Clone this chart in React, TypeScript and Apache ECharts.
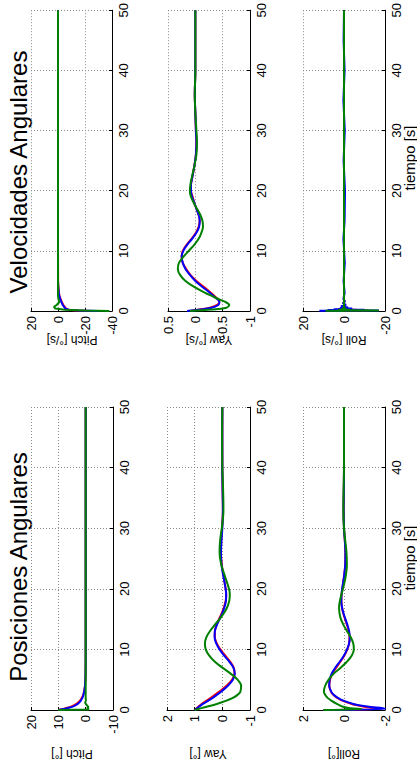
import React, { useEffect, useRef } from "react";
import * as echarts from "echarts";

const FONT = '"Liberation Sans", Arial, Helvetica, sans-serif';

// ---------- Posiciones Angulares ----------
// Pitch [°]
const posPitchT = [0, 0.2, 0.4, 0.6, 0.8, 1.0, 1.3, 1.6, 2.0, 2.5, 3.0, 3.5, 4.0, 5.0, 6.0, 8, 10, 15, 20, 30, 40, 50];
const posPitchRed = [10, 8.0, 6.4, 5.2, 4.2, 3.4, 2.6, 2.0, 1.4, 0.9, 0.6, 0.4, 0.25, 0.1, 0.05, 0, 0, 0, 0, 0, 0, 0];
const posPitchBlue = [10, 7.5, 5.8, 4.5, 3.6, 2.9, 2.2, 1.7, 1.2, 0.8, 0.55, 0.35, 0.25, 0.1, 0.05, 0, 0, 0, 0, 0, 0, 0];
const posPitchGreenT = [0, 0.1, 0.3, 0.5, 0.8, 1.2, 1.6, 2.0, 3, 5, 10, 20, 30, 40, 50];
const posPitchGreen = [10, -1.2, -0.6, -1.0, -0.4, 0.2, -0.1, 0, 0, 0, 0, 0, 0, 0, 0];

// Yaw [°]
const posYawT = [0, 0.5, 1, 1.5, 2, 2.5, 3, 4, 5, 6, 7, 8, 9, 10, 11, 12, 13, 14, 15, 16, 17, 18, 19, 20, 22, 24, 26, 28, 30, 33, 36, 40, 45, 50];
const posYawRed = [1, 0.88, 0.75, 0.58, 0.42, 0.27, 0.12, -0.15, -0.35, -0.44, -0.41, -0.28, -0.1, 0.07, 0.2, 0.27, 0.27, 0.21, 0.12, 0.02, -0.06, -0.12, -0.14, -0.12, -0.05, 0.02, 0.05, 0.04, 0.01, -0.02, -0.01, 0, 0, 0];
const posYawBlue = [1, 0.85, 0.7, 0.52, 0.35, 0.2, 0.05, -0.2, -0.38, -0.45, -0.4, -0.25, -0.06, 0.1, 0.22, 0.28, 0.27, 0.2, 0.1, 0.0, -0.08, -0.13, -0.14, -0.12, -0.04, 0.03, 0.05, 0.03, 0.0, -0.02, -0.01, 0, 0, 0];
const posYawGreen = [1, 0.6, 0.2, -0.12, -0.38, -0.55, -0.65, -0.68, -0.55, -0.3, 0.0, 0.28, 0.48, 0.6, 0.63, 0.58, 0.45, 0.28, 0.1, -0.06, -0.18, -0.25, -0.27, -0.24, -0.1, 0.04, 0.1, 0.08, 0.02, -0.04, -0.03, 0.0, 0.01, 0];

// Roll [°]
const posRollT = [0, 0.15, 0.3, 0.5, 0.75, 1, 1.5, 2, 2.5, 3, 4, 5, 6, 7, 8, 9, 10, 11, 12, 13, 14, 15, 16, 17, 18, 19, 20, 22, 24, 26, 28, 30, 33, 36, 40, 45, 50];
const posRollRed = [1, -1.8, -1.6, -1.1, -0.7, -0.38, 0.05, 0.33, 0.52, 0.63, 0.72, 0.68, 0.57, 0.38, 0.17, -0.02, -0.16, -0.25, -0.27, -0.23, -0.15, -0.05, 0.04, 0.1, 0.13, 0.12, 0.08, 0.0, -0.06, -0.07, -0.04, 0.0, 0.02, 0.01, 0, 0, 0];
const posRollBlue = [1, -2.0, -1.9, -1.3, -0.8, -0.45, 0.0, 0.3, 0.5, 0.62, 0.72, 0.7, 0.6, 0.42, 0.2, 0.0, -0.15, -0.25, -0.28, -0.25, -0.17, -0.07, 0.03, 0.1, 0.13, 0.12, 0.09, 0.0, -0.06, -0.07, -0.04, 0.0, 0.02, 0.01, 0, 0, 0];
const posRollGreen = [1, -0.85, -0.3, 0.0, 0.2, 0.35, 0.6, 0.8, 0.92, 0.98, 0.92, 0.75, 0.5, 0.15, -0.15, -0.38, -0.48, -0.45, -0.33, -0.15, 0.02, 0.15, 0.22, 0.24, 0.2, 0.13, 0.05, -0.08, -0.14, -0.12, -0.06, 0.0, 0.03, 0.02, 0, 0, 0];

// ---------- Velocidades Angulares ----------
// Pitch [°/s]
const velPitchT = [0, 0.1, 0.2, 0.4, 0.7, 1, 1.5, 2, 2.5, 3, 4, 5, 10, 20, 30, 40, 50];
const velPitchRed = [-25, -13, -8, -6, -5, -4, -2.8, -1.9, -1.2, -0.7, -0.3, -0.1, 0, 0, 0, 0, 0];
const velPitchBlue = [-30, -15, -8, -5.5, -4.5, -3.5, -2.5, -1.6, -1, -0.6, -0.2, 0, 0, 0, 0, 0, 0];
const velPitchGreen = [-38, -20, -5, 2, 3, 1, -1, -0.3, 0, 0, 0, 0, 0, 0, 0, 0, 0];

// Yaw [°/s]
const velYawT = [0, 0.25, 0.5, 1, 1.5, 2, 2.5, 3, 4, 5, 6, 7, 8, 9, 10, 11, 12, 13, 14, 15, 16, 17, 18, 19, 20, 21, 22, 24, 26, 28, 30, 33, 36, 40, 45, 50];
const velYawRed = [0.1, -0.08, -0.25, -0.4, -0.44, -0.41, -0.35, -0.29, -0.16, -0.02, 0.09, 0.17, 0.23, 0.25, 0.23, 0.16, 0.07, -0.01, -0.06, -0.08, -0.06, -0.02, 0.02, 0.05, 0.08, 0.08, 0.06, 0.02, -0.01, -0.02, -0.01, 0, 0.01, 0, 0, 0];
const velYawBlue = [0.15, -0.1, -0.28, -0.42, -0.44, -0.4, -0.33, -0.27, -0.13, 0.0, 0.1, 0.18, 0.23, 0.25, 0.22, 0.15, 0.06, -0.02, -0.07, -0.08, -0.06, -0.02, 0.02, 0.06, 0.08, 0.08, 0.06, 0.02, -0.01, -0.02, -0.01, 0.0, 0.01, 0, 0, 0];
const velYawGreen = [0.1, -0.3, -0.55, -0.62, -0.55, -0.42, -0.3, -0.18, 0.02, 0.18, 0.28, 0.32, 0.3, 0.22, 0.12, 0.02, -0.06, -0.11, -0.14, -0.13, -0.09, -0.03, 0.03, 0.08, 0.1, 0.09, 0.07, 0.02, -0.02, -0.03, -0.02, 0.0, 0.01, 0, 0, 0];

// Roll [°/s]
const velRollT = [0, 0.05, 0.1, 0.15, 0.2, 0.3, 0.4, 0.5, 0.6, 0.8, 1, 1.3, 1.6, 2, 3, 5, 8, 12, 15, 20, 25, 30, 35, 40, 45, 50];
const velRollRed = [0, 8, -12, 6, -6, 3, -2, 1, -1, 0.5, -0.3, 0.2, -0.1, 0, 0, 0, 0, 0, 0, 0, 0, 0, 0, 0, 0, 0];
const velRollBlue = [0, 12, -17, 8, -10, 5, -4, 2, -2, 1.5, -1, 0.6, -0.5, 0.3, -0.3, 0.2, -0.4, 0.3, -0.3, -0.5, 0.2, -0.4, 0.3, -0.3, 0.2, 0];
const velRollGreen = [0, 9, -17, 3, -3, 1.5, -1, 0.5, -0.3, 0.2, 0, 0, 0, 0, 0, 0, 0, 0, 0, 0, 0, 0, 0, 0, 0, 0];

const timeTicks = { min: 0, max: 50, interval: 10 };

const RED = "#ff0000";
const BLUE = "#0000ff";
const GREEN = "#008000";

type Line = { t: number[]; v: number[]; color: string };
type Panel = {
  grid: { left: number; top: number; width: number; height: number };
  min: number;
  max: number;
  interval: number;
  smooth: boolean;
  lines: Line[];
};

const panels: Panel[] = [
  {
    grid: { left: 31, top: 407, width: 82, height: 303 },
    min: -10, max: 20, interval: 10, smooth: false,
    lines: [
      { t: posPitchT, v: posPitchRed, color: RED },
      { t: posPitchT, v: posPitchBlue, color: BLUE },
      { t: posPitchGreenT, v: posPitchGreen, color: GREEN },
    ],
  },
  {
    grid: { left: 167, top: 407, width: 83, height: 303 },
    min: -1, max: 2, interval: 1, smooth: true,
    lines: [
      { t: posYawT, v: posYawRed, color: RED },
      { t: posYawT, v: posYawBlue, color: BLUE },
      { t: posYawT, v: posYawGreen, color: GREEN },
    ],
  },
  {
    grid: { left: 303, top: 407, width: 82, height: 303 },
    min: -2, max: 2, interval: 2, smooth: true,
    lines: [
      { t: posRollT, v: posRollRed, color: RED },
      { t: posRollT, v: posRollBlue, color: BLUE },
      { t: posRollT, v: posRollGreen, color: GREEN },
    ],
  },
  {
    grid: { left: 31, top: 6, width: 81, height: 305 },
    min: -40, max: 20, interval: 20, smooth: false,
    lines: [
      { t: velPitchT, v: velPitchRed, color: RED },
      { t: velPitchT, v: velPitchBlue, color: BLUE },
      { t: velPitchT, v: velPitchGreen, color: GREEN },
    ],
  },
  {
    grid: { left: 168, top: 6, width: 82, height: 305 },
    min: -1, max: 0.5, interval: 0.5, smooth: true,
    lines: [
      { t: velYawT, v: velYawRed, color: RED },
      { t: velYawT, v: velYawBlue, color: BLUE },
      { t: velYawT, v: velYawGreen, color: GREEN },
    ],
  },
  {
    grid: { left: 303, top: 6, width: 82, height: 305 },
    min: -20, max: 20, interval: 20, smooth: false,
    lines: [
      { t: velRollT, v: velRollRed, color: RED },
      { t: velRollT, v: velRollBlue, color: BLUE },
      { t: velRollT, v: velRollGreen, color: GREEN },
    ],
  },
];

const gridLine = { show: true, lineStyle: { color: "#8a8a8a", type: [1, 2] as any, width: 1 } };

function buildOption() {
  const grid: any[] = [];
  const xAxis: any[] = [];
  const yAxis: any[] = [];
  const series: any[] = [];
  panels.forEach((p, i) => {
    grid.push({ ...p.grid, containLabel: false });
    xAxis.push({
      type: "value",
      gridIndex: i,
      inverse: true,
      position: "bottom",
      min: p.min,
      max: p.max,
      interval: p.interval,
      axisLine: { show: true, onZero: false, lineStyle: { color: "#000", width: 1 } },
      axisTick: { show: true, inside: true, length: 3, lineStyle: { color: "#000" } },
      axisLabel: { rotate: 90, margin: 5, color: "#000", fontSize: 13, fontFamily: FONT },
      splitLine: gridLine,
    });
    yAxis.push({
      type: "value",
      gridIndex: i,
      position: "right",
      ...timeTicks,
      axisLine: { show: true, onZero: false, lineStyle: { color: "#000", width: 1 } },
      axisTick: { show: true, inside: true, length: 3, lineStyle: { color: "#000" } },
      axisLabel: { rotate: 90, margin: 5, color: "#000", fontSize: 13, fontFamily: FONT },
      splitLine: gridLine,
    });
    p.lines.forEach((l) => {
      series.push({
        type: "line",
        xAxisIndex: i,
        yAxisIndex: i,
        data: l.t.map((t, k) => [l.v[k], t]),
        showSymbol: false,
        symbol: "none",
        smooth: p.smooth ? 0.35 : false,
        lineStyle: { color: l.color, width: 2 },
        clip: true,
      });
    });
  });

  const txt = (text: string, x: number, y: number, rotation: number, fontSize: number) => ({
    type: "text",
    x,
    y,
    rotation,
    style: {
      text,
      fill: "#000",
      font: `${fontSize}px ${FONT}`,
      align: "center",
      verticalAlign: "middle",
    },
  });

  const graphic = [
    txt("Velocidades Angulares", 18, 172, Math.PI / 2, 24),
    txt("Posiciones Angulares", 18, 567, Math.PI / 2, 24),
    txt("tiempo [s]", 409, 158, Math.PI / 2, 15),
    txt("tiempo [s]", 409, 558, Math.PI / 2, 15),
    txt("Pitch [°/s]", 72, 340, Math.PI, 12),
    txt("Yaw [°/s]", 209, 340, Math.PI, 12),
    txt("Roll [°/s]", 344, 340, Math.PI, 12),
    txt("Pitch [°]", 72, 754, Math.PI, 12),
    txt("Yaw [°]", 208, 754, Math.PI, 12),
    txt("Roll[°]", 344, 754, Math.PI, 12),
  ];

  return {
    animation: false,
    backgroundColor: "#ffffff",
    grid,
    xAxis,
    yAxis,
    series,
    graphic,
  };
}

export default function App() {
  const ref = useRef<HTMLDivElement>(null);
  useEffect(() => {
    if (!ref.current) return;
    const chart = echarts.init(ref.current, null, { renderer: "svg" });
    chart.setOption(buildOption() as any);
    return () => chart.dispose();
  }, []);
  return (
    <div
      ref={ref}
      style={{ position: "absolute", left: 0, top: 0, width: 417, height: 772, background: "#fff" }}
    />
  );
}
